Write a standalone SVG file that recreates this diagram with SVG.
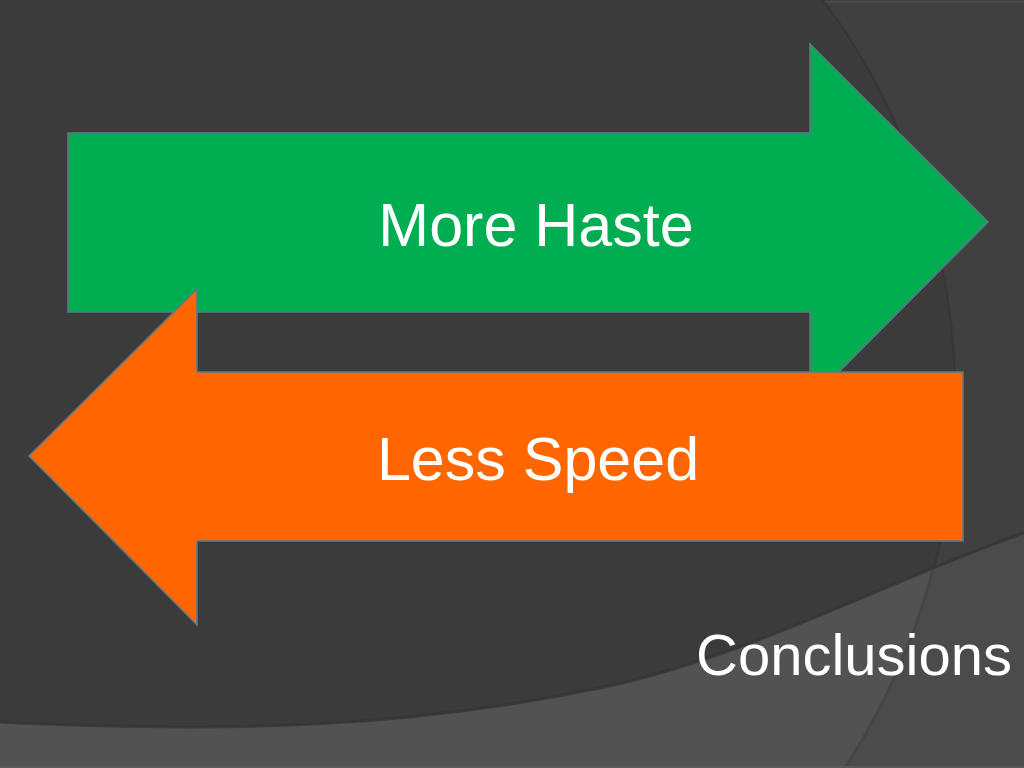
<svg xmlns="http://www.w3.org/2000/svg" width="1024" height="768" viewBox="0 0 1024 768">
<defs>
<style>
.arrow{stroke:#5b7a8a;stroke-width:1.5;stroke-linejoin:miter}
.lbl{font-family:"Liberation Sans",Arial,sans-serif;fill:#ffffff}
</style>
<clipPath id="circ"><circle cx="285" cy="400" r="668"/></clipPath>
<clipPath id="band"><path d="M0,722 C250,734 420,725 600,688 C750,657 900,575 1024,533 L1024,768 L0,768 Z"/></clipPath>
</defs>
<g id="background">
<rect x="0" y="0" width="1024" height="768" fill="#404040"/>
<circle cx="285" cy="400" r="668" fill="#3b3b3b"/>
<line x1="824" y1="2" x2="1024" y2="2" stroke="#4a4a4a" stroke-width="2"/>
<circle cx="285" cy="400" r="670" fill="none" stroke="#333333" stroke-width="3" opacity="0.7"/>
<path d="M0,722 C250,734 420,725 600,688 C750,657 900,575 1024,533 L1024,768 L0,768 Z" fill="#4b4b4b"/>
<g clip-path="url(#band)">
<circle cx="285" cy="400" r="668" fill="#525252"/>
<circle cx="285" cy="400" r="670" fill="none" stroke="#454545" stroke-width="2"/>
</g>
<path d="M0,722 C250,734 420,725 600,688 C750,657 900,575 1024,533" fill="none" stroke="#343434" stroke-width="3" opacity="0.8"/>
<line x1="0" y1="767" x2="1024" y2="767" stroke="#5a5a5a" stroke-width="2"/>
</g>
<g id="more-haste">
<polygon class="arrow" fill="#00ad50" points="68,133 810,133 810,44 988,222 810,401 810,312 68,312"/>
<text class="lbl" x="536" y="246" font-size="61" text-anchor="middle">More Haste</text>
</g>
<g id="less-speed">
<polygon class="arrow" fill="#ff6600" points="963,372 197,372 197,289 29,456 197,625 197,541 963,541"/>
<text class="lbl" x="538" y="480" font-size="61" text-anchor="middle">Less Speed</text>
</g>
<g id="title">
<text class="lbl" x="1012" y="675" font-size="58" text-anchor="end">Conclusions</text>
</g>
<g id="connectors"/>
</svg>
